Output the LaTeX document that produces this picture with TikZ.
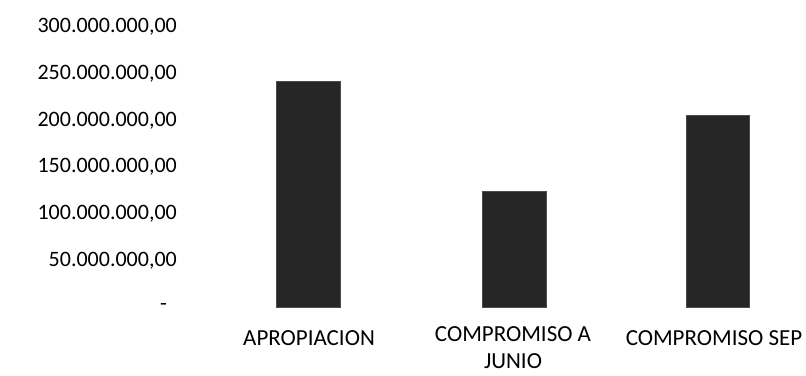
\documentclass[tikz,border=0pt]{standalone}
\usepackage{fontspec}
\setmainfont{Carlito}
\begin{document}
\begin{tikzpicture}[x=1pt,y=-1pt,
  ylab/.style={anchor=east,inner sep=0pt,font=\fontsize{22}{24}\selectfont},
  catlab/.style={inner sep=0pt,align=center,font=\fontsize{23}{27}\selectfont},
  bar/.style={fill=black!85,draw=black!70,line width=0.4pt}]
\useasboundingbox (0,0) rectangle (806,375);
\node[ylab] (t300) at (177,27) {300.000.000,00};
\node[ylab] (t250) at (177,74) {250.000.000,00};
\node[ylab] (t200) at (177,121) {200.000.000,00};
\node[ylab] (t150) at (177,167) {150.000.000,00};
\node[ylab] (t100) at (177,214) {100.000.000,00};
\node[ylab] (t50) at (177,261) {50.000.000,00};
\node[ylab] (t0) at (167,307) {-};
\draw[bar] (276,81) rectangle (340,307);
\draw[bar] (482,191) rectangle (546,307);
\draw[bar] (686,115) rectangle (749,307);
\node[catlab] (c1) at (309,338) {APROPIACION};
\node[catlab,anchor=base] (c2) at (513,368) {COMPROMISO A\\JUNIO};
\node[catlab] (c3) at (714,338) {COMPROMISO SEP};
\end{tikzpicture}
\end{document}
